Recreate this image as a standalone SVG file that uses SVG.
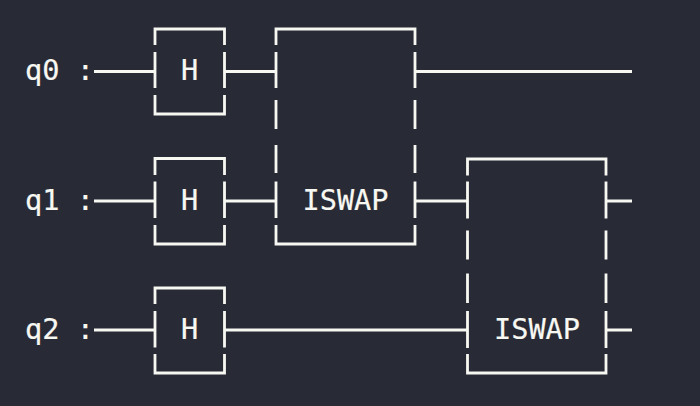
<svg xmlns="http://www.w3.org/2000/svg" width="700" height="406" viewBox="0 0 700 406">
<style>
.l{fill:none;stroke:#f8f8f2;stroke-width:2.8}
text{font-family:"DejaVu Sans Mono",monospace;font-size:28.6px;fill:#f8f8f2;stroke:#f8f8f2;stroke-width:.2}
.m{text-anchor:middle}
</style>
<rect width="700" height="406" fill="#282a36"/>
<g id="labels">
<text x="25" y="80">q0 :</text>
<text x="25" y="209.500">q1 :</text>
<text x="25" y="339">q2 :</text>
</g>
<g id="connectors">
<path class="l" d="M94 71.500H155M225 71.500H276M415 71.500H632M94 201H155M225 201H276M415 201H467.500M606 201H632M94 330H155M225 330H467.500M606 330H632"/>
</g>
<g id="h0"><path class="l" d="M155 45V29H224.500V45M155 52V88M224.500 52V88M155 95V114H224.500V95"/><text class="m" x="189.500" y="80">H</text></g>
<g id="h1"><path class="l" d="M155 175V158.500H224.500V175M155 181.500V218M224.500 181.500V218M155 225V244H224.500V225"/><text class="m" x="189.500" y="209.500">H</text></g>
<g id="h2"><path class="l" d="M155 304V288H224.500V304M155 311V347.500M224.500 311V347.500M155 354V373H224.500V354"/><text class="m" x="189.500" y="339">H</text></g>
<g id="iswap0"><path class="l" d="M276 45V29H415V45M276 52V88M415 52V88M276 100V129M415 100V129M276 145V173M415 145V173M276 181.500V218M415 181.500V218M276 225V244H415V225"/><text class="m" x="345.500" y="209.500">ISWAP</text></g>
<g id="iswap1"><path class="l" d="M467.500 175.500V159H606V175.500M467.500 181.500V218.500M606 181.500V218.500M467.500 230.500V259.500M606 230.500V259.500M467.500 273.500V303M606 273.500V303M467.500 311V348M606 311V348M467.500 354V373H606V354"/><text class="m" x="537" y="339">ISWAP</text></g>
</svg>
